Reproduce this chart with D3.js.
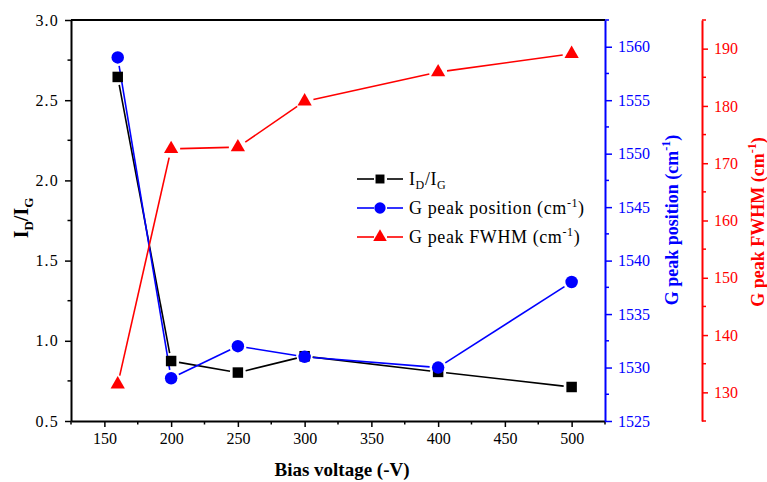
<!DOCTYPE html>
<html>
<head>
<meta charset="utf-8">
<script src="https://cdn.jsdelivr.net/npm/d3@7"></script>
<style>
  body { margin: 0; background: #fff; }
  svg text { font-family: "Liberation Serif", "Times New Roman", Tinos, "DejaVu Serif", serif !important; }
</style>
</head>
<body>
<svg id="chart" width="767" height="482"></svg>
<script>
const voltage = [160, 200, 250, 300, 400, 500];
const ratio = [2.645, 0.874, 0.802, 0.904, 0.806, 0.712];       // I_D/I_G
const gPosition = [1559.0, 1529.0, 1532.0, 1531.0, 1530.0, 1538.0]; // cm-1
const gFwhm = [131.4, 172.5, 172.8, 180.8, 185.9, 189.1];        // cm-1

const xTicks = [150, 200, 250, 300, 350, 400, 450, 500];
const ratioTicks = [0.5, 1.0, 1.5, 2.0, 2.5, 3.0];
const posTicks = [1525, 1530, 1535, 1540, 1545, 1550, 1555, 1560];
const fwhmTicks = [130, 140, 150, 160, 170, 180, 190];

const svg = d3.select('#chart');
const plotL = 71, plotR = 605, plotT = 20, plotB = 421;
const redAxisX = 702;

const x = d3.scaleLinear().domain([125, 525]).range([plotL, plotR]);
const yRatio = d3.scaleLinear().domain([0.5, 3.0]).range([plotB, plotT]);
const yPos = d3.scaleLinear().domain([1525, 1562.5]).range([plotB, plotT]);
const yFwhm = d3.scaleLinear().domain([125, 195]).range([plotB, plotT]);

const minors = (ticks, step, lo, hi) => d3.range(lo, hi + step / 10, step).filter(v => !ticks.some(t => Math.abs(t - v) < 1e-6));

function styleAxis(g, color, fontSize) {
  g.attr('font-family', null);
  g.select('.domain').attr('stroke', color).attr('stroke-width', 2);
  g.selectAll('.tick line').attr('stroke', color).attr('stroke-width', 1.5);
  g.selectAll('.tick text').attr('fill', color).attr('font-size', fontSize);
}

// top frame line
svg.append('line').attr('x1', plotL).attr('x2', plotR).attr('y1', plotT).attr('y2', plotT)
  .attr('stroke', '#000').attr('stroke-width', 2);

// bottom axis
const gx = svg.append('g').attr('transform', `translate(0,${plotB})`)
  .call(d3.axisBottom(x).tickValues(xTicks).tickFormat(d3.format('d')).tickSize(6).tickSizeOuter(0).tickPadding(6));
styleAxis(gx, '#000', 16);
gx.append('g').selectAll('line').data(minors(xTicks, 25, 125, 525)).join('line')
  .attr('x1', d => x(d)).attr('x2', d => x(d)).attr('y1', 0).attr('y2', 3.5)
  .attr('stroke', '#000').attr('stroke-width', 1.5);

// left axis
const gy = svg.append('g').attr('transform', `translate(${plotL},0)`)
  .call(d3.axisLeft(yRatio).tickValues(ratioTicks).tickFormat(d3.format('.1f')).tickSize(6).tickSizeOuter(0).tickPadding(6));
styleAxis(gy, '#000', 16);
gy.selectAll('.tick text').attr('letter-spacing', 1.2);
gy.append('g').selectAll('line').data(minors(ratioTicks, 0.25, 0.5, 3.0)).join('line')
  .attr('y1', d => yRatio(d)).attr('y2', d => yRatio(d)).attr('x1', 0).attr('x2', -3.5)
  .attr('stroke', '#000').attr('stroke-width', 1.5);

// blue right axis
const gb = svg.append('g').attr('transform', `translate(${plotR},0)`)
  .call(d3.axisRight(yPos).tickValues(posTicks).tickFormat(d3.format('d')).tickSize(7).tickSizeOuter(0).tickPadding(6));
styleAxis(gb, '#0000ff', 16);
gb.append('g').selectAll('line').data(minors(posTicks, 2.5, 1525, 1562.5)).join('line')
  .attr('y1', d => yPos(d)).attr('y2', d => yPos(d)).attr('x1', 0).attr('x2', 4)
  .attr('stroke', '#0000ff').attr('stroke-width', 1.5);

// red right axis
const gr = svg.append('g').attr('transform', `translate(${redAxisX},0)`)
  .call(d3.axisRight(yFwhm).tickValues(fwhmTicks).tickFormat(d3.format('d')).tickSize(6).tickSizeOuter(0).tickPadding(6));
styleAxis(gr, '#ff0000', 16);
gr.append('g').selectAll('line').data(minors(fwhmTicks, 5, 125, 195)).join('line')
  .attr('y1', d => yFwhm(d)).attr('y2', d => yFwhm(d)).attr('x1', 0).attr('x2', 4)
  .attr('stroke', '#ff0000').attr('stroke-width', 1.5);

// axis titles
svg.append('text').attr('x', (plotL + plotR) / 2 + 4).attr('y', 476).attr('text-anchor', 'middle')
  .attr('font-size', 19).attr('font-weight', 'bold').text('Bias voltage (-V)');

const tl = svg.append('text').attr('transform', 'translate(28,218) rotate(-90)')
  .attr('text-anchor', 'middle').attr('font-size', 20).attr('font-weight', 'bold');
tl.append('tspan').text('I');
tl.append('tspan').attr('font-size', 13).attr('dy', 5).text('D');
tl.append('tspan').attr('dy', -5).text('/I');
tl.append('tspan').attr('font-size', 13).attr('dy', 5).text('G');

function titleCm(g, label) {
  g.append('tspan').text(label + ' (cm');
  g.append('tspan').attr('font-size', 12).attr('dy', -8).text('-1');
  g.append('tspan').attr('dy', 8).text(')');
}
const tb = svg.append('text').attr('transform', 'translate(678,220) rotate(-90)')
  .attr('text-anchor', 'middle').attr('font-size', 18).attr('font-weight', 'bold').attr('fill', '#0000ff');
titleCm(tb, 'G peak position');
const tr = svg.append('text').attr('transform', 'translate(764,222) rotate(-90)')
  .attr('text-anchor', 'middle').attr('font-size', 18).attr('font-weight', 'bold').attr('fill', '#ff0000');
titleCm(tr, 'G peak FWHM');

// series
const series = [
  { values: ratio, y: yRatio, color: '#000', symbol: d3.symbolSquare, size: 110, r: 6 },
  { values: gPosition, y: yPos, color: '#0000ff', symbol: d3.symbolCircle, size: 122, r: 6.5 },
  { values: gFwhm, y: yFwhm, color: '#ff0000', symbol: d3.symbolTriangle, size: 88, r: 7 }
];

// line segments stop short of the markers, Origin style
series.forEach(s => {
  const pts = voltage.map((v, i) => [x(v), s.y(s.values[i])]);
  const segs = d3.pairs(pts).map(([a, b]) => {
    const dx = b[0] - a[0], dy = b[1] - a[1], len = Math.hypot(dx, dy);
    const gap = s.r + 2;
    if (len <= 2 * gap) return null;
    return [[a[0] + dx * gap / len, a[1] + dy * gap / len], [b[0] - dx * gap / len, b[1] - dy * gap / len]];
  }).filter(Boolean);
  svg.append('g').selectAll('line').data(segs).join('line')
    .attr('x1', d => d[0][0]).attr('y1', d => d[0][1]).attr('x2', d => d[1][0]).attr('y2', d => d[1][1])
    .attr('stroke', s.color).attr('stroke-width', 1.6);
});
series.forEach(s => {
  svg.append('g').selectAll('path').data(voltage).join('path')
    .attr('transform', (v, i) => `translate(${x(v)},${s.y(s.values[i])})`)
    .attr('d', d3.symbol(s.symbol, s.size)).attr('fill', s.color);
});

// legend
const legendRows = [
  { color: '#000', symbol: d3.symbolSquare, size: 80, y: 179 },
  { color: '#0000ff', symbol: d3.symbolCircle, size: 100, y: 208 },
  { color: '#ff0000', symbol: d3.symbolTriangle, size: 80, y: 237 }
];
const lg = svg.append('g');
legendRows.forEach((r, i) => {
  lg.append('line').attr('x1', 357).attr('x2', 374).attr('y1', r.y).attr('y2', r.y).attr('stroke', r.color).attr('stroke-width', 1.6);
  lg.append('line').attr('x1', 387).attr('x2', 403).attr('y1', r.y).attr('y2', r.y).attr('stroke', r.color).attr('stroke-width', 1.6);
  lg.append('path').attr('transform', `translate(380,${r.y})`).attr('d', d3.symbol(r.symbol, r.size)).attr('fill', r.color);
  const t = lg.append('text').attr('x', 409).attr('y', r.y + 6).attr('font-size', 18).attr('letter-spacing', 0.6);
  if (i === 0) {
    t.append('tspan').text('I');
    t.append('tspan').attr('font-size', 12).attr('dy', 4).text('D');
    t.append('tspan').attr('dy', -4).text('/I');
    t.append('tspan').attr('font-size', 12).attr('dy', 4).text('G');
  } else {
    t.append('tspan').text((i === 1 ? 'G peak position' : 'G peak FWHM') + ' (cm');
    t.append('tspan').attr('font-size', 12).attr('dy', -7).text('-1');
    t.append('tspan').attr('dy', 7).text(')');
  }
});
</script>
</body>
</html>
